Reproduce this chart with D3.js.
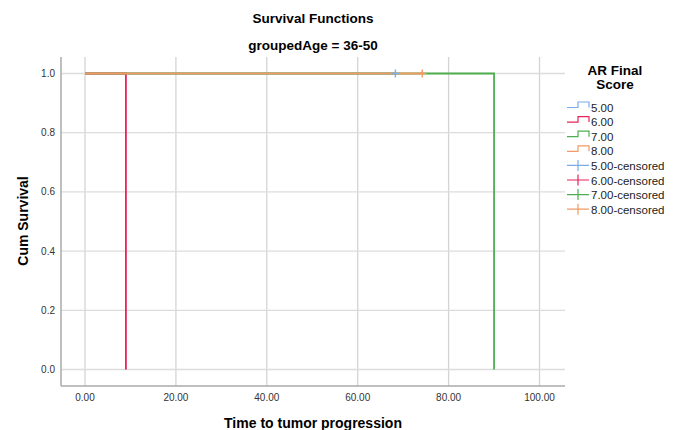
<!DOCTYPE html>
<html>
<head>
<meta charset="utf-8">
<script src="https://cdn.jsdelivr.net/npm/d3@7"></script>
<style>
  body { margin: 0; background: #fff; }
  svg { display: block; font-family: Arial, "Liberation Sans", sans-serif; }
</style>
</head>
<body>
<div id="app"></div>
<script>
// groups of AR Final Score
const groups = ['5.00', '6.00', '7.00', '8.00']
const groupColors = ['#79aee8', '#e8245a', '#4fae4f', '#f29a64']

// step curves: [time, survival] points per group
const curve5 = [[0, 1], [68.3, 1]]
const curve6 = [[0, 1], [9, 1], [9, 0]]
const curve7 = [[0, 1], [90, 1], [90, 0]]
const curve8 = [[0, 1], [74.2, 1]]
const curves = [curve5, curve6, curve7, curve8]

// censored marks: [group index, time, survival]
const censored = [[0, 68.3, 1], [3, 74.2, 1]]

const xTicks = [0, 20, 40, 60, 80, 100]
const yTicks = [0, 0.2, 0.4, 0.6, 0.8, 1.0]

const size = { width: 680, height: 430 }
const plot = { left: 61, right: 565, top: 57, bottom: 386 }

const svg = d3.select('#app').append('svg')
  .attr('width', size.width)
  .attr('height', size.height)

const x = d3.scaleLinear().domain([0, 100]).range([85, 539.5])
const y = d3.scaleLinear().domain([0, 1]).range([369.5, 73.5])

// grid
svg.append('g').selectAll('line')
  .data(xTicks).enter().append('line')
  .attr('x1', d => x(d)).attr('x2', d => x(d))
  .attr('y1', plot.top).attr('y2', plot.bottom)
  .attr('stroke', '#d4d4d4').attr('stroke-width', 1.3)

svg.append('g').selectAll('line')
  .data(yTicks).enter().append('line')
  .attr('x1', plot.left).attr('x2', plot.right)
  .attr('y1', d => y(d)).attr('y2', d => y(d))
  .attr('stroke', '#dcdcdc').attr('stroke-width', 1.3)

// axis lines
svg.append('line')
  .attr('x1', plot.left).attr('x2', plot.left)
  .attr('y1', plot.top).attr('y2', plot.bottom)
  .attr('stroke', '#aaa').attr('stroke-width', 1.5)
svg.append('line')
  .attr('x1', plot.left).attr('x2', plot.right)
  .attr('y1', plot.bottom).attr('y2', plot.bottom)
  .attr('stroke', '#aaa').attr('stroke-width', 1.5)

// tick labels
svg.append('g').selectAll('text')
  .data(xTicks).enter().append('text')
  .attr('x', d => x(d)).attr('y', 401)
  .attr('text-anchor', 'middle')
  .attr('font-size', 10).attr('fill', '#333')
  .text(d => d3.format('.2f')(d))

svg.append('g').selectAll('text')
  .data(yTicks).enter().append('text')
  .attr('x', 55).attr('y', d => y(d) + 3.5)
  .attr('text-anchor', 'end')
  .attr('font-size', 10).attr('fill', '#333')
  .text(d => d3.format('.1f')(d))

// titles
svg.append('text').attr('x', 313).attr('y', 23)
  .attr('text-anchor', 'middle').attr('font-size', 13.5).attr('font-weight', 'bold')
  .text('Survival Functions')
svg.append('text').attr('x', 313).attr('y', 50)
  .attr('text-anchor', 'middle').attr('font-size', 13.5).attr('font-weight', 'bold')
  .text('groupedAge = 36-50')
svg.append('text').attr('x', 313).attr('y', 428)
  .attr('text-anchor', 'middle').attr('font-size', 14).attr('font-weight', 'bold')
  .text('Time to tumor progression')
svg.append('text')
  .attr('transform', 'translate(28,221) rotate(-90)')
  .attr('text-anchor', 'middle').attr('font-size', 14).attr('font-weight', 'bold')
  .text('Cum Survival')

// curves
const line = d3.line().x(d => x(d[0])).y(d => y(d[1]))
svg.append('g').selectAll('path')
  .data(curves).enter().append('path')
  .attr('d', d => line(d))
  .attr('fill', 'none')
  .attr('stroke', (d, i) => groupColors[i])
  .attr('stroke-width', 1.8)

// censored ticks
const cg = svg.append('g').selectAll('g')
  .data(censored).enter().append('g')
  .attr('transform', d => `translate(${x(d[1])},${y(d[2])})`)
cg.append('line').attr('x1', -4).attr('x2', 4)
  .attr('stroke', d => groupColors[d[0]]).attr('stroke-width', 1.4)
cg.append('line').attr('y1', -4).attr('y2', 4)
  .attr('stroke', d => groupColors[d[0]]).attr('stroke-width', 1.4)

// legend
const legend = svg.append('g')
legend.append('text').attr('x', 615).attr('y', 75)
  .attr('text-anchor', 'middle').attr('font-size', 13.5).attr('font-weight', 'bold')
  .text('AR Final')
legend.append('text').attr('x', 615).attr('y', 89)
  .attr('text-anchor', 'middle').attr('font-size', 13.5).attr('font-weight', 'bold')
  .text('Score')

const legendItems = groups.map((g, i) => ({ label: g, i, censored: false }))
  .concat(groups.map((g, i) => ({ label: g + '-censored', i, censored: true })))

const li = legend.selectAll('.legend-item')
  .data(legendItems).enter().append('g')
  .attr('class', 'legend-item')
  .attr('transform', (d, k) => `translate(567,${107 + k * 14.6})`)

li.filter(d => !d.censored).append('path')
  .attr('d', 'M0,0.5H11V-5H22V0.5')
  .attr('fill', 'none').attr('stroke-width', 1.2)
  .attr('stroke', d => groupColors[d.i])
li.filter(d => d.censored).append('path')
  .attr('d', 'M0,0H22M11,-5.5V5.5')
  .attr('fill', 'none').attr('stroke-width', 1.2)
  .attr('stroke', d => groupColors[d.i])
li.append('text').attr('x', 24).attr('y', 4.5)
  .attr('font-size', 11.5).attr('fill', '#222')
  .text(d => d.label)
</script>
</body>
</html>
